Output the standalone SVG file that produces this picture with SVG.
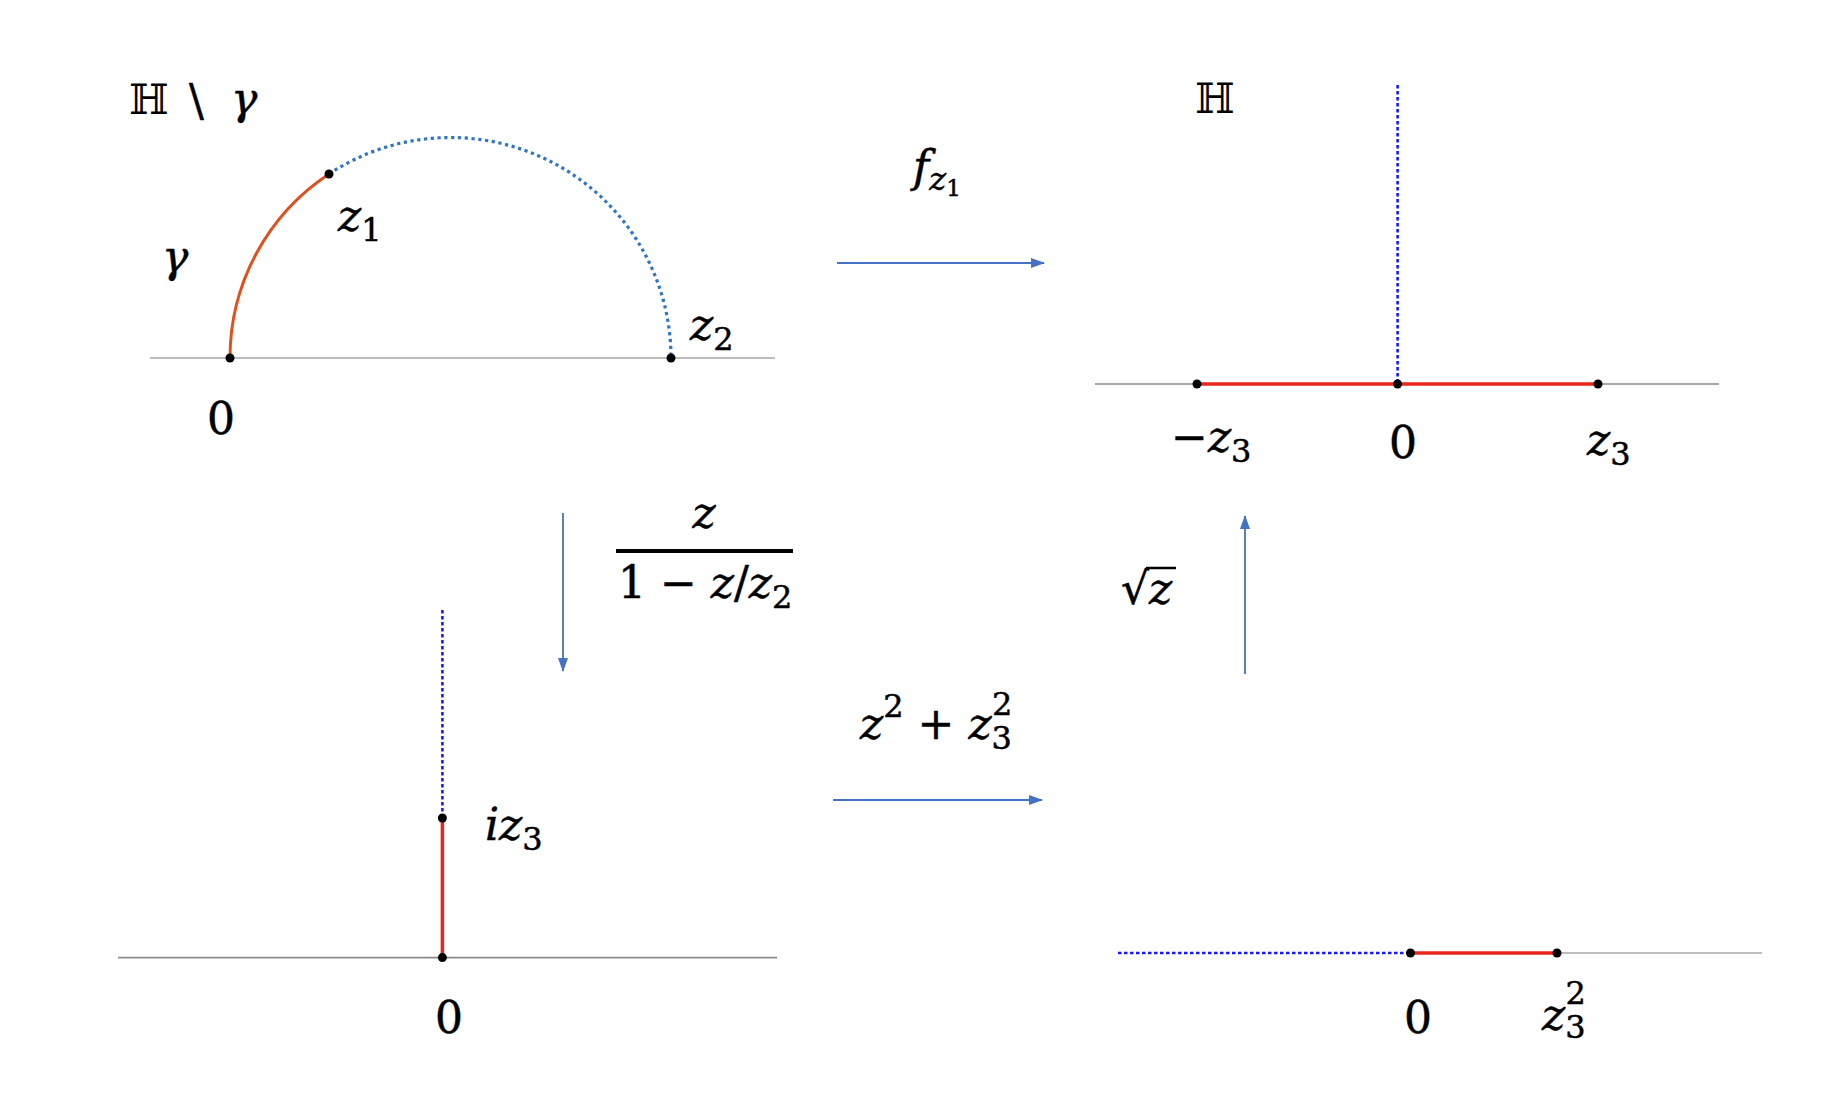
<svg xmlns="http://www.w3.org/2000/svg" width="1840" height="1112" viewBox="0 0 1840 1112">
<defs>
<style>
.m{font-family:"DejaVu Serif","Liberation Serif",serif;font-size:44px;fill:#000;stroke:#000;stroke-width:0.5}
.i{font-style:italic}
.s{font-size:32px}
.ss{font-size:23px}
.ds{font-family:"DejaVu Serif","DejaVu Sans",serif;font-size:42px;fill:#000}
.ax{stroke:#a6a6a6;stroke-width:1.6;fill:none}
.ax2{stroke:#8a8a8a;stroke-width:1.6;fill:none}
.red{stroke:#e8261e;stroke-width:3.5;fill:none}
.org{stroke:#e0501f;stroke-width:3;fill:none}
.bdot{stroke:#2e75c6;stroke-width:3.2;fill:none;stroke-dasharray:3.2 3.6}
.vdot{stroke:#1a1aff;stroke-width:2.6;fill:none;stroke-dasharray:3.5 2.5}
.arr{stroke:#4472c4;stroke-width:1.8;fill:none}
.dot{fill:#000}
</style>
<marker id="ah2" viewBox="0 0 14 10" refX="13" refY="5" markerWidth="14" markerHeight="12" markerUnits="userSpaceOnUse" orient="auto">
<path d="M0,0 L14,5 L0,10 z" fill="#4472c4"/>
</marker>
</defs>
<rect width="1840" height="1112" fill="#fff"/>

<g id="panel-top-left">
<text class="ds" x="129" y="114">ℍ</text>
<text class="m" x="189" y="116" font-size="48">\</text>
<text class="m i" x="231" y="114">γ</text>
<line class="ax" x1="150" y1="358" x2="775" y2="358"/>
<path class="org" d="M230,358 A220.5,220.5 0 0 1 329,174"/>
<path class="bdot" d="M329,174 A220.5,220.5 0 0 1 671,358"/>
<circle class="dot" cx="230" cy="358" r="4.5"/>
<circle class="dot" cx="329" cy="174" r="4.5"/>
<circle class="dot" cx="671" cy="358" r="4.5"/>
<text class="m i" x="162" y="272">γ</text>
<text class="m" x="338" y="231"><tspan class="i">z</tspan><tspan class="s" dy="10">1</tspan></text>
<text class="m" x="690" y="340"><tspan class="i">z</tspan><tspan class="s" dy="10">2</tspan></text>
<text class="m" x="207" y="434">0</text>
</g>

<g id="panel-top-right">
<text class="ds" x="1195" y="113">ℍ</text>
<line class="ax2" x1="1095" y1="384" x2="1719" y2="384"/>
<line class="vdot" x1="1397.6" y1="85" x2="1397.6" y2="384"/>
<line class="red" x1="1197" y1="384" x2="1598" y2="384"/>
<circle class="dot" cx="1197" cy="384" r="4.5"/>
<circle class="dot" cx="1397.6" cy="384" r="4.5"/>
<circle class="dot" cx="1598" cy="384" r="4.5"/>
<text class="m" x="1171" y="452">−<tspan class="i">z</tspan><tspan class="s" dy="10">3</tspan></text>
<text class="m" x="1389" y="458">0</text>
<text class="m" x="1587" y="455"><tspan class="i">z</tspan><tspan class="s" dy="10">3</tspan></text>
</g>

<g id="panel-bottom-left">
<line class="ax2" x1="118" y1="957.6" x2="777" y2="957.6"/>
<line class="vdot" x1="442.4" y1="610" x2="442.4" y2="818"/>
<line class="red" x1="442.4" y1="818" x2="442.4" y2="957.6"/>
<circle class="dot" cx="442.4" cy="818" r="4.5"/>
<circle class="dot" cx="442.4" cy="957.6" r="4.5"/>
<text class="m" x="485" y="840"><tspan class="i">iz</tspan><tspan class="s" dy="10">3</tspan></text>
<text class="m" x="435" y="1033">0</text>
</g>

<g id="panel-bottom-right">
<line class="ax" x1="1410" y1="953" x2="1762" y2="953"/>
<line class="vdot" x1="1118" y1="953" x2="1410.5" y2="953"/>
<line class="red" x1="1410.5" y1="953" x2="1557" y2="953"/>
<circle class="dot" cx="1410.5" cy="953" r="4.5"/>
<circle class="dot" cx="1557" cy="953" r="4.5"/>
<text class="m" x="1404" y="1033">0</text>
<text class="m" x="1542" y="1030"><tspan class="i">z</tspan><tspan class="s" dy="8">3</tspan><tspan class="s" dx="-20" dy="-34">2</tspan></text>
</g>

<g id="connectors">
<line class="arr" x1="837" y1="263" x2="1044" y2="263" marker-end="url(#ah2)"/>
<line class="arr" x1="563" y1="513" x2="563" y2="671" marker-end="url(#ah2)"/>
<line class="arr" x1="833" y1="800" x2="1042" y2="800" marker-end="url(#ah2)"/>
<line class="arr" x1="1245" y1="674" x2="1245" y2="516" marker-end="url(#ah2)"/>
</g>

<g id="labels">
<text class="m" x="913" y="182"><tspan class="i">f</tspan><tspan class="s i" dy="8">z</tspan><tspan class="ss" dy="6">1</tspan></text>
<text class="m i" x="704" y="528" text-anchor="middle">z</text>
<line x1="616" y1="551" x2="793" y2="551" stroke="#000" stroke-width="4"/>
<text class="m" x="618" y="598">1 − <tspan class="i">z</tspan>/<tspan class="i">z</tspan><tspan class="s" dy="10">2</tspan></text>
<text class="m" x="860" y="739"><tspan class="i">z</tspan><tspan class="s" dy="-22">2</tspan><tspan dy="22"> + </tspan><tspan class="i">z</tspan><tspan class="s" dy="10">3</tspan><tspan class="s" dx="-20" dy="-34">2</tspan></text>
<text class="m" x="1121" y="604">√<tspan class="i">z</tspan></text>
<line x1="1146" y1="568" x2="1176" y2="568" stroke="#000" stroke-width="2.5"/>
</g>
</svg>
